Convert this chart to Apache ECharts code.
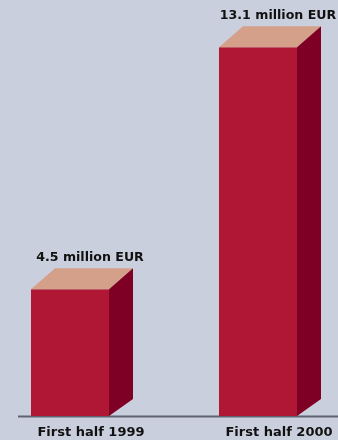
<!DOCTYPE html>
<html>
<head>
<meta charset="utf-8">
<script src="https://cdn.jsdelivr.net/npm/echarts@6/dist/echarts.min.js"></script>
<style>
html,body{margin:0;padding:0;background:#c9cfdc;}
#main{width:338px;height:440px;}
</style>
</head>
<body>
<div id="main"></div>
<script>
var categories = ['First half 1999', 'First half 2000']
var values = [4.5, 13.1]
var valueLabels = ['4.5 million EUR', '13.1 million EUR']

var chart = echarts.init(document.getElementById('main'))

// 3d box: front face, top face, right face
function renderBox(params, api) {
	var cx = api.coord([api.value(0), 0])[0]
	var top = api.coord([api.value(0), api.value(1)])[1]
	var bottom = api.coord([api.value(0), 0])[1]
	var x1 = cx - 60, x2 = cx + 18
	var dx = 24, dy = 21
	return {
		type: 'group',
		children: [
			{
				type: 'rect',
				shape: { x: x1, y: top, width: x2 - x1, height: bottom - top },
				style: { fill: '#b01735' }
			},
			{
				type: 'polygon',
				shape: { points: [[x1, top], [x1 + dx, top - dy], [x2 + dx, top - dy], [x2, top]] },
				style: { fill: '#d5a08a' }
			},
			{
				type: 'polygon',
				shape: { points: [[x2, top], [x2 + dx, top - dy], [x2 + dx, bottom - 17], [x2, bottom]] },
				style: { fill: '#7f0025' }
			},
			{
				type: 'text',
				style: {
					x: cx - 1, y: top - 32,
					text: valueLabels[params.dataIndex],
					fill: '#111',
					font: 'bold 12.6px "DejaVu Sans"',
					align: 'center', verticalAlign: 'middle'
				}
			}
		]
	}
}

var option = {
	backgroundColor: '#c9cfdc',
	animation: false,
	grid: { left: 91, right: 59, top: 22, bottom: 24 },
	xAxis: {
		type: 'category',
		boundaryGap: false,
		data: categories,
		axisLine: { show: false },
		axisTick: { show: false },
		splitLine: { show: false },
		axisLabel: {
			color: '#111',
			fontFamily: 'DejaVu Sans',
			fontWeight: 'bold',
			fontSize: 13,
			margin: 10
		}
	},
	yAxis: {
		type: 'value',
		min: 0,
		max: 14,
		show: false
	},
	graphic: [{
		type: 'line',
		shape: { x1: 18, y1: 416.5, x2: 338, y2: 416.5 },
		style: { stroke: '#5e6272', lineWidth: 2 },
		z: 0
	}],
	series: [{
		type: 'custom',
		renderItem: renderBox,
		clip: false,
		z: 5,
		data: values.map(function (v, i) { return [i, v] })
	}]
}

chart.setOption(option)
</script>
</body>
</html>
